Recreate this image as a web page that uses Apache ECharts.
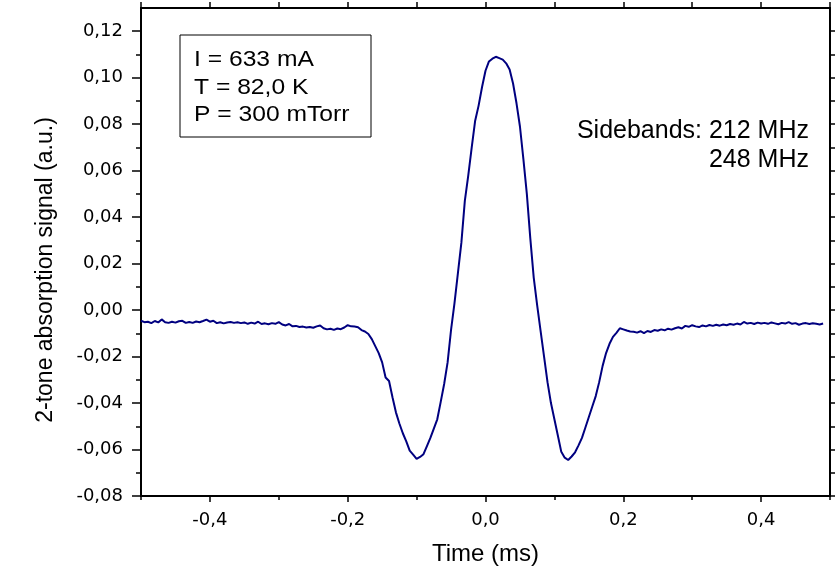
<!DOCTYPE html>
<html>
<head>
<meta charset="utf-8">
<script src="https://cdn.jsdelivr.net/npm/echarts@6/dist/echarts.min.js"></script>
<style>html,body{margin:0;padding:0;background:#fff}#c{width:835px;height:572px}</style>
</head>
<body>
<div id="c"></div>
<script>
// ---- data ----
const timeMs = [
-0.500,-0.495,-0.490,-0.485,-0.480,-0.475,-0.470,-0.465,-0.460,-0.455,
-0.450,-0.445,-0.440,-0.435,-0.430,-0.425,-0.420,-0.415,-0.410,-0.405,
-0.400,-0.395,-0.390,-0.385,-0.380,-0.375,-0.370,-0.365,-0.360,-0.355,
-0.350,-0.345,-0.340,-0.335,-0.330,-0.325,-0.320,-0.315,-0.310,-0.305,
-0.300,-0.295,-0.290,-0.285,-0.280,-0.275,-0.270,-0.265,-0.260,-0.255,
-0.250,-0.245,-0.240,-0.235,-0.230,-0.225,-0.220,-0.215,-0.210,-0.205,
-0.200,-0.195,-0.190,-0.185,-0.180,-0.175,-0.170,-0.165,-0.160,-0.155,
-0.150,-0.145,-0.140,-0.135,-0.130,-0.125,-0.120,-0.115,-0.110,-0.105,
-0.100,-0.095,-0.090,-0.085,-0.080,-0.075,-0.070,-0.065,-0.060,-0.055,
-0.050,-0.045,-0.040,-0.035,-0.030,-0.025,-0.020,-0.015,-0.010,-0.005,
0.000,0.005,0.010,0.015,0.020,0.025,0.030,0.035,0.040,0.045,
0.050,0.055,0.060,0.065,0.070,0.075,0.080,0.085,0.090,0.095,
0.100,0.105,0.110,0.115,0.120,0.125,0.130,0.135,0.140,0.145,
0.150,0.155,0.160,0.165,0.170,0.175,0.180,0.185,0.190,0.195,
0.200,0.205,0.210,0.215,0.220,0.225,0.230,0.235,0.240,0.245,
0.250,0.255,0.260,0.265,0.270,0.275,0.280,0.285,0.290,0.295,
0.300,0.305,0.310,0.315,0.320,0.325,0.330,0.335,0.340,0.345,
0.350,0.355,0.360,0.365,0.370,0.375,0.380,0.385,0.390,0.395,
0.400,0.405,0.410,0.415,0.420,0.425,0.430,0.435,0.440,0.445,
0.450,0.455,0.460,0.465,0.470,0.475,0.480,0.485,0.490
];
const signal = [
-0.0046,-0.0052,-0.0050,-0.0056,-0.0047,-0.0053,-0.0040,-0.0052,-0.0055,-0.0050,
-0.0054,-0.0048,-0.0046,-0.0055,-0.0051,-0.0055,-0.0049,-0.0052,-0.0047,-0.0041,
-0.0050,-0.0046,-0.0056,-0.0052,-0.0057,-0.0053,-0.0051,-0.0055,-0.0052,-0.0056,
-0.0053,-0.0059,-0.0054,-0.0058,-0.0050,-0.0060,-0.0057,-0.0061,-0.0056,-0.0059,
-0.0052,-0.0062,-0.0066,-0.0060,-0.0070,-0.0068,-0.0073,-0.0071,-0.0075,-0.0073,
-0.0076,-0.0070,-0.0066,-0.0078,-0.0083,-0.0080,-0.0085,-0.0079,-0.0082,-0.0075,
-0.0065,-0.0070,-0.0071,-0.0074,-0.0086,-0.0092,-0.0103,-0.0125,-0.0155,-0.0185,
-0.0225,-0.0290,-0.0305,-0.0375,-0.0440,-0.0488,-0.0530,-0.0565,-0.0605,-0.0622,
-0.0640,-0.0632,-0.0620,-0.0585,-0.0550,-0.0510,-0.0470,-0.0395,-0.0318,-0.0225,
-0.0085,0.0030,0.0160,0.0290,0.0470,0.0580,0.0700,0.0815,0.0880,0.0960,
0.1030,0.1070,0.1082,0.1090,0.1084,0.1078,0.1062,0.1035,0.0975,0.0890,
0.0790,0.0650,0.0500,0.0310,0.0140,0.0020,-0.0090,-0.0200,-0.0310,-0.0400,
-0.0470,-0.0540,-0.0610,-0.0635,-0.0645,-0.0630,-0.0612,-0.0582,-0.0550,-0.0505,
-0.0460,-0.0415,-0.0370,-0.0310,-0.0240,-0.0185,-0.0145,-0.0115,-0.0098,-0.0078,
-0.0083,-0.0088,-0.0092,-0.0093,-0.0097,-0.0091,-0.0099,-0.0090,-0.0094,-0.0086,
-0.0089,-0.0083,-0.0087,-0.0080,-0.0084,-0.0078,-0.0074,-0.0079,-0.0068,-0.0072,
-0.0065,-0.0070,-0.0073,-0.0066,-0.0070,-0.0064,-0.0068,-0.0063,-0.0067,-0.0062,
-0.0065,-0.0060,-0.0063,-0.0058,-0.0062,-0.0051,-0.0058,-0.0055,-0.0060,-0.0054,
-0.0058,-0.0055,-0.0059,-0.0053,-0.0057,-0.0061,-0.0055,-0.0058,-0.0052,-0.0059,
-0.0056,-0.0063,-0.0058,-0.0056,-0.0060,-0.0057,-0.0059,-0.0062,-0.0058
];
const xMajorTicks = [-0.4, -0.2, 0.0, 0.2, 0.4];
const xMinorTicks = [-0.5, -0.3, -0.1, 0.1, 0.3, 0.5];
const yMajorTicks = [-0.08, -0.06, -0.04, -0.02, 0.00, 0.02, 0.04, 0.06, 0.08, 0.10, 0.12];
const yMinorTicks = [-0.07, -0.05, -0.03, -0.01, 0.01, 0.03, 0.05, 0.07, 0.09, 0.11];
const xTitle = 'Time (ms)';
const yTitle = '2-tone absorption signal (a.u.)';
const infoLines = ['I = 633 mA', 'T = 82,0 K', 'P = 300 mTorr'];
const sidebandLines = ['Sidebands: 212 MHz', '248 MHz'];

// ---- chart ----
const FONT = 'DejaVu Sans';
const FONT2 = 'Liberation Sans';
const seriesData = timeMs.map((t, i) => [t, signal[i]]);
const allX = xMajorTicks.concat(xMinorTicks).sort((a, b) => a - b);
const allY = yMajorTicks.concat(yMinorTicks).sort((a, b) => a - b);
const axisLine = { show: true, onZero: false, lineStyle: { color: '#000', width: 2 } };
const noLine = { show: false, onZero: false };
const tickStyle = { color: '#000', width: 1.5 };
const boxFont = '22px "Liberation Sans"';

const chart = echarts.init(document.getElementById('c'), null, { renderer: 'canvas' });
chart.setOption({
  animation: false,
  backgroundColor: '#fff',
  grid: { left: 141, right: 5, top: 8, bottom: 76, containLabel: false },
  xAxis: [
    {
      type: 'value', position: 'bottom', min: -0.5, max: 0.5,
      axisLine: axisLine,
      axisTick: { show: true, inside: false, length: 6, customValues: xMajorTicks, lineStyle: tickStyle },
      axisLabel: { show: true, customValues: xMajorTicks, margin: 15,
        formatter: v => v.toFixed(1).replace('-0.0', '0.0').replace('.', ','),
        color: '#000', fontFamily: FONT, fontSize: 18 },
      splitLine: { show: false },
      name: xTitle, nameLocation: 'middle', nameGap: 46,
      nameTextStyle: { color: '#000', fontFamily: FONT2, fontSize: 24 }
    },
    {
      type: 'value', position: 'bottom', min: -0.5, max: 0.5,
      axisLine: noLine,
      axisTick: { show: true, length: 4, customValues: xMinorTicks, lineStyle: tickStyle },
      axisLabel: { show: false }, splitLine: { show: false }
    },
    {
      type: 'value', position: 'top', min: -0.5, max: 0.5,
      axisLine: axisLine,
      axisTick: { show: true, length: 6, customValues: allX, lineStyle: tickStyle },
      axisLabel: { show: false }, splitLine: { show: false }
    }
  ],
  yAxis: [
    {
      type: 'value', position: 'left', min: -0.08, max: 0.13,
      axisLine: axisLine,
      axisTick: { show: true, length: 9, customValues: yMajorTicks, lineStyle: tickStyle },
      axisLabel: { show: true, customValues: yMajorTicks, margin: 18,
        formatter: v => v.toFixed(2).replace('-0.00', '0.00').replace('.', ','),
        color: '#000', fontFamily: FONT, fontSize: 18 },
      splitLine: { show: false },
      name: yTitle, nameLocation: 'middle', nameGap: 84, nameRotate: 90,
      nameTextStyle: { color: '#000', fontFamily: FONT2, fontSize: 23, padding: [0, 36, 0, 0] }
    },
    {
      type: 'value', position: 'left', min: -0.08, max: 0.13,
      axisLine: noLine,
      axisTick: { show: true, length: 5, customValues: yMinorTicks, lineStyle: tickStyle },
      axisLabel: { show: false }, splitLine: { show: false }
    },
    {
      type: 'value', position: 'right', min: -0.08, max: 0.13,
      axisLine: axisLine,
      axisTick: { show: true, length: 5, customValues: allY, lineStyle: tickStyle },
      axisLabel: { show: false }, splitLine: { show: false }
    }
  ],
  series: [{
    type: 'line', xAxisIndex: 0, yAxisIndex: 0,
    data: seriesData, showSymbol: false, symbol: 'none',
    lineStyle: { color: '#000080', width: 2 }, itemStyle: { color: '#000080' },
    z: 5
  }],
  graphic: [
    { type: 'rect', z: 10, shape: { x: 180, y: 35, width: 191, height: 102 },
      style: { fill: '#fff', stroke: '#000', lineWidth: 1 } },
    { type: 'text', z: 11, x: 194, y: 60, scaleX: 1.12, style: { text: infoLines[0], fill: '#000', font: boxFont, verticalAlign: 'middle' } },
    { type: 'text', z: 11, x: 194, y: 87.5, scaleX: 1.12, style: { text: infoLines[1], fill: '#000', font: boxFont, verticalAlign: 'middle' } },
    { type: 'text', z: 11, x: 194, y: 115, scaleX: 1.12, style: { text: infoLines[2], fill: '#000', font: boxFont, verticalAlign: 'middle' } },
    { type: 'text', z: 11, x: 809, y: 131, style: { text: sidebandLines[0], fill: '#000', font: '25px "Liberation Sans"', align: 'right', verticalAlign: 'middle' } },
    { type: 'text', z: 11, x: 809, y: 160, style: { text: sidebandLines[1], fill: '#000', font: '25px "Liberation Sans"', align: 'right', verticalAlign: 'middle' } }
  ]
});
</script>
</body>
</html>
